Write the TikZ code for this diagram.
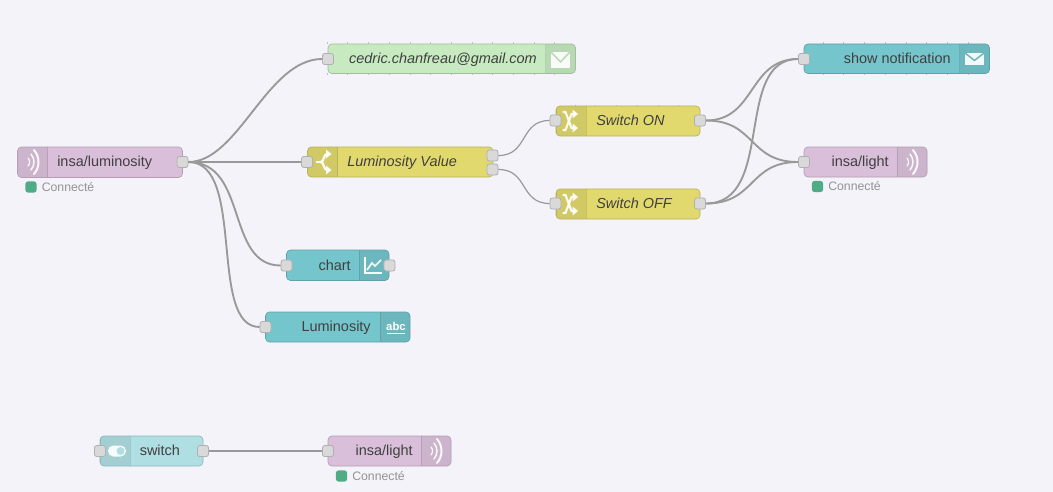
\documentclass[tikz,border=0pt]{standalone}
\usepackage{fontspec}
\setmainfont{Liberation Sans}
\definecolor{bgc}{HTML}{F3F3F9}
\definecolor{purp}{HTML}{D9BFD9}\definecolor{purpb}{HTML}{CCB4CC}
\definecolor{grn}{HTML}{C7EAC1}\definecolor{grnb}{HTML}{B7D8B2}
\definecolor{yel}{HTML}{E2D96E}\definecolor{yelb}{HTML}{D1C966}
\definecolor{tea}{HTML}{74C5CC}\definecolor{teab}{HTML}{6CB7BE}
\definecolor{swi}{HTML}{B0DFE3}\definecolor{swib}{HTML}{A3CFD3}
\definecolor{edgec}{HTML}{B0B0B0}
\definecolor{porfill}{HTML}{D9D9D9}
\definecolor{wirec}{HTML}{999999}
\definecolor{stat}{HTML}{4FAC85}
\tikzset{
  x=0.75pt,y=-0.75pt,
  nodebody/.style={inner sep=0pt,outer sep=0pt},
  outline/.style={draw=#1,line width=0.5pt,rounded corners=3pt},
  portbox/.style={draw=edgec,fill=porfill,inner sep=0pt,minimum width=8.3pt,minimum height=8.3pt,rounded corners=1.8pt,line width=0.6pt},
  labelT/.style={inner sep=0pt,text=black!75,font=\fontsize{10.85}{12}\selectfont},
  labelI/.style={labelT,font=\fontsize{10.85}{12}\selectfont\itshape},
  statusT/.style={inner sep=0pt,anchor=west,text=black!42,font=\fontsize{9.2}{10}\selectfont},
  statusD/.style={inner sep=0pt,minimum size=8.3pt,rounded corners=1.8pt,fill=stat},
  wire/.style={draw=wirec,line width=1.4pt},
  thinwire/.style={draw=wirec,line width=0.9pt},
  icon/.style={draw=white,line width=1.3pt,opacity=.92},
  gridtick/.style={draw=black!25,line width=0.4pt},
}
% name x0 y0 x1 y1 bandx0 bandx1 fill bandfill
\newcommand{\flownode}[9]{%
  \node[nodebody,fill=#8,rounded corners=3pt,minimum width={(#4-#2)*0.75pt},minimum height={(#5-#3)*0.75pt}]
    (#1) at ({(#2+#4)/2},{(#3+#5)/2}) {};
  \begin{scope}
    \clip[rounded corners=3pt] (#2,#3) rectangle (#4,#5);
    \fill[#9] (#6,#3) rectangle (#7,#5);
    \draw[black,opacity=.1,line width=0.6pt] (#6,#3) -- (#6,#5) (#7,#3) -- (#7,#5);
  \end{scope}
  \draw[outline=black!12!#9] (#2,#3) rectangle (#4,#5);
}
\newcommand{\waveicon}[2]{%
  \draw[icon,line width=1.5pt,line cap=round] (#1+2,#2-12) .. controls (#1+8,#2-5) and (#1+8,#2+5) .. (#1+2,#2+12);
  \draw[icon,line width=1.1pt,line cap=round] (#1-1,#2-8) .. controls (#1+3,#2-3) and (#1+3,#2+3) .. (#1-1,#2+8);
  \draw[icon,line width=0.9pt,line cap=round] (#1-4,#2-4) .. controls (#1-2,#2-2) and (#1-2,#2+2) .. (#1-4,#2+4);
}
% head pointing right with tip at (x,y)
\newcommand{\headicon}[2]{\fill[white,opacity=.92] (#1,#2) -- (#1-5.5,#2-4.5) -- (#1-5.5,#2+4.5) -- cycle;}
\newcommand{\shuffleicon}[2]{%
  \draw[icon,line width=1.6pt] (#1-7.5,#2+9) -- (#1-4.5,#2+9) -- (#1+1.5,#2-7) -- (#1+3,#2-7);
  \draw[icon,line width=1.6pt] (#1-7.5,#2-9) -- (#1-4.5,#2-9) -- (#1+1.5,#2+7) -- (#1+3,#2+7);
  \headicon{#1+8}{#2-7}
  \headicon{#1+8}{#2+7}
}
\newcommand{\mailicon}[5]{% x0 y0 x1 y1 bandcolor
  \fill[white,opacity=.92] (#1,#2) rectangle (#3,#4);
  \draw[#5,line width=1.1pt] (#1,#2) -- ({(#1+#3)/2},{#2+0.62*(#4-#2)}) -- (#3,#2);
}
\begin{document}
\begin{tikzpicture}
\useasboundingbox (0,0) rectangle (1053,492);
\fill[bgc] (0,0) rectangle (1053,492);

% faint grid remnants at the node edges
\foreach \k in {0,...,11} \draw[gridtick] ({327+20.7*\k},42.5) -- ++(0,1.5) ({327+20.7*\k},73.5) -- ++(0,1.5);
\foreach \k in {0,...,7} \draw[gridtick] ({823+20.7*\k},42.5) -- ++(0,1.5) ({823+20.7*\k},73.5) -- ++(0,1.5);
\foreach \k in {0,...,5} \draw[gridtick] ({575+20.7*\k},105) -- ++(0,1.5);

% ---- bodies
\flownode{mqttin}{17.5}{147}{182.5}{177.5}{17.5}{47.5}{purp}{purpb}
\flownode{email}{328}{44}{575.5}{73.5}{545.5}{575.5}{grn}{grnb}
\flownode{lumfn}{307.5}{147}{493}{177}{307.5}{337.5}{yel}{yelb}
\flownode{swon}{556}{106}{700}{136}{556}{586}{yel}{yelb}
\flownode{swoff}{556}{189}{700}{219}{556}{586}{yel}{yelb}
\flownode{notif}{804}{44}{989.5}{73.5}{959.5}{989.5}{tea}{teab}
\flownode{lightA}{804}{147}{927}{177}{897}{927}{purp}{purpb}
\flownode{chart}{286.5}{250}{389}{280.5}{359}{389}{tea}{teab}
\flownode{lumtxt}{265.5}{312}{410}{342}{380}{410}{tea}{teab}
\flownode{toggle}{100}{436}{203}{466}{100}{130}{swi}{swib}
\flownode{lightB}{328}{436}{451}{466}{421}{451}{purp}{purpb}

% ---- labels
\node[labelT,anchor=base west] (tA) at (57,166.7) {insa/luminosity};
\node[labelI,anchor=base east] (tB) at (537,63.5) {cedric.chanfreau@gmail.com};
\node[labelI,anchor=base west] (tC) at (347,166.7) {Luminosity Value};
\node[labelI,anchor=base west] (tD) at (596,125.2) {Switch ON};
\node[labelI,anchor=base west] (tE) at (596,208.2) {Switch OFF};
\node[labelT,anchor=base east] (tF) at (951,63.3) {show notification};
\node[labelT,anchor=base east] (tG) at (889,166.7) {insa/light};
\node[labelT,anchor=base east] (tH) at (351,270) {chart};
\node[labelT,anchor=base east] (tI) at (371,331.7) {Luminosity};
\node[labelT,anchor=base west] (tJ) at (139.5,455.7) {switch};
\node[labelT,anchor=base east] (tK) at (413,455.7) {insa/light};

% ---- status
\node[statusD] (sA) at (31,187) {};
\node[statusT] (sAt) at (41.5,187) {Connecté};
\node[statusD] (sB) at (817.5,186.5) {};
\node[statusT] (sBt) at (828,186.5) {Connecté};
\node[statusD] (sC) at (341.5,476) {};
\node[statusT] (sCt) at (352,476) {Connecté};

% ---- icons
\waveicon{32}{162}
\waveicon{911}{162}
\waveicon{435}{451}
\mailicon{551}{52}{570}{68}{grnb}
\mailicon{965}{53}{984}{65}{teab}
\shuffleicon{570}{121}
\shuffleicon{570}{204}
% switch fork
\draw[icon,line width=1.7pt] (316,162) -- (322,162);
\draw[icon,line width=1.7pt] (321,162) .. controls (324.5,161) and (323.5,154) .. (327,154);
\draw[icon,line width=1.7pt] (321,162) .. controls (324.5,163) and (323.5,170) .. (327,170);
\headicon{331.5}{154}
\headicon{331.5}{170}
% chart
\draw[icon,line width=1pt] (365,257) -- (365,273) -- (382,273);
\draw[icon,line width=1.3pt] (367,270) -- (372,263) -- (375,266) -- (381,260);
% abc
\node[inner sep=0pt,text=white,font=\fontsize{8.5}{10}\selectfont\bfseries] (abcT) at (396,326) {abc};
\draw[icon,line width=1.1pt] (387,333.5) -- (405,333.5);
% toggle
\fill[white,opacity=.92,rounded corners=4pt] (108,445.5) rectangle (126,456.5);
\fill[swi] (120.5,451) circle[radius=4];

% ---- ports
\node[portbox] (pA) at (182.5,162) {};
\node[portbox] (pB) at (328,59) {};
\node[portbox] (pC) at (307,162) {};
\node[portbox] (pD) at (492.5,155.5) {};
\node[portbox] (pE) at (492.5,169.5) {};
\node[portbox] (pF) at (555.5,120.5) {};
\node[portbox] (pG) at (555.5,203.5) {};
\node[portbox] (pH) at (700,120.5) {};
\node[portbox] (pI) at (700,203.5) {};
\node[portbox] (pJ) at (804,59) {};
\node[portbox] (pK) at (804,162) {};
\node[portbox] (pL) at (286.5,265.5) {};
\node[portbox] (pM) at (389.5,265.5) {};
\node[portbox] (pN) at (265.5,327) {};
\node[portbox] (pO) at (100,451) {};
\node[portbox] (pP) at (203,451) {};
\node[portbox] (pQ) at (328,451) {};

% ---- connectors
\draw[wire] (pA.east) .. controls +(50,0) and +(-55,0) .. (pB.west);
\draw[wire] (pA.east) -- (pC.west);
\draw[wire] (pA.east) .. controls +(60,0) and +(-55,0) .. (pL.west);
\draw[wire] (pA.east) .. controls +(58,0) and +(-52,0) .. (pN.west);
\draw[thinwire] (pD.east) .. controls +(30,0) and +(-30,0) .. (pF.west);
\draw[thinwire] (pE.east) .. controls +(30,0) and +(-30,0) .. (pG.west);
\draw[wire] (pH.east) .. controls +(50,0) and +(-50,0) .. (pJ.west);
\draw[wire] (pH.east) .. controls +(50,0) and +(-50,0) .. (pK.west);
\draw[wire] (pI.east) .. controls +(70,0) and +(-65,0) .. (pJ.west);
\draw[wire] (pI.east) .. controls +(50,0) and +(-50,0) .. (pK.west);
\draw[wire] (pP.east) -- (pQ.west);
\end{tikzpicture}
\end{document}
